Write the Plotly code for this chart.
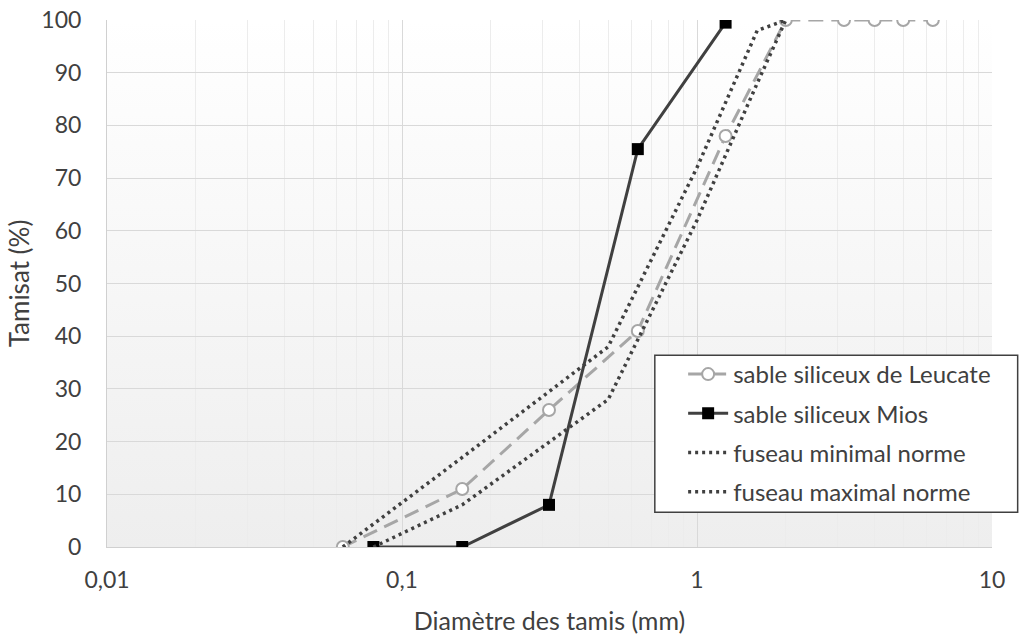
import base64
import plotly.graph_objects as go

# Data
leucate_x = [0.063, 0.16, 0.315, 0.63, 1.25, 2.0, 3.15, 4.0, 5.0, 6.3]
leucate_y = [0, 11, 26, 41, 78, 100, 100, 100, 100, 100]

mios_x = [0.08, 0.16, 0.315, 0.63, 1.25]
mios_y = [0, 0, 8, 75.5, 99.5]

fmin_x = [0.08, 0.16, 0.5, 1.0, 1.6, 2.0]
fmin_y = [0, 8, 28, 62, 88, 100]

fmax_x = [0.063, 0.16, 0.5, 1.0, 1.6, 2.0]
fmax_y = [0, 17, 38, 72, 98, 100]

x_tickvals = [0.01, 0.1, 1, 10]
x_ticktext = ["0,01", "0,1", "1", "10"]

FONT = "Lato"
TXT = "#404040"

fig = go.Figure()

fig.add_trace(go.Scatter(
    x=leucate_x, y=leucate_y, mode="lines+markers", name="sable siliceux de Leucate",
    legendgroup="a",
    line=dict(color="#a6a6a6", width=3, dash="15px,8px"),
    marker=dict(symbol="circle", size=12, color="white", line=dict(color="#a6a6a6", width=2)),
))
fig.add_trace(go.Scatter(
    x=mios_x, y=mios_y, mode="lines+markers", name="sable siliceux Mios",
    legendgroup="b",
    line=dict(color="#404040", width=3),
    marker=dict(symbol="square", size=12, color="black", line=dict(color="black", width=0)),
))
fig.add_trace(go.Scatter(
    x=fmin_x, y=fmin_y, mode="lines", name="fuseau minimal norme",
    legendgroup="c",
    line=dict(color="#404040", width=3.5, dash="3px,4px"),
))
fig.add_trace(go.Scatter(
    x=fmax_x, y=fmax_y, mode="lines", name="fuseau maximal norme",
    legendgroup="d",
    line=dict(color="#404040", width=3.5, dash="3px,4px"),
))

svg = ('<svg xmlns="http://www.w3.org/2000/svg" width="100" height="100" preserveAspectRatio="none">'
       '<defs><linearGradient id="g" x1="0" y1="0" x2="0" y2="1">'
       '<stop offset="0" stop-color="#ffffff"/><stop offset="1" stop-color="#eeeeee"/>'
       '</linearGradient></defs><rect width="100" height="100" fill="url(#g)"/></svg>')
src = "data:image/svg+xml;base64," + base64.b64encode(svg.encode()).decode()

fig.update_layout(
    width=1020, height=635,
    margin=dict(l=107, r=28, t=20, b=88),
    paper_bgcolor="white",
    plot_bgcolor="rgba(0,0,0,0)",
    font=dict(family=FONT, color=TXT, size=23),
    images=[dict(source=src, xref="paper", yref="paper", x=0, y=1, sizex=1, sizey=1,
                 sizing="stretch", layer="below", xanchor="left", yanchor="top")],
    shapes=[dict(type="rect", xref="paper", yref="paper",
                 x0=0.619, x1=1.029, y0=0.066, y1=0.364,
                 fillcolor="white", line=dict(color="#404040", width=1.5), layer="above")],
    xaxis=dict(
        type="log", range=[-2, 1], automargin=False,
        tickvals=x_tickvals, ticktext=x_ticktext,
        showgrid=True, gridcolor="#d9d9d9", gridwidth=1,
        minor=dict(dtick="D1", showgrid=True, gridcolor="#ececec", gridwidth=1),
        showline=True, linecolor="#d0d0d0", linewidth=1,
        zeroline=False, ticks="", ticklen=0,
        ticklabelstandoff=12,
        tickfont=dict(size=23, color=TXT),
        title=dict(text="Diamètre des tamis (mm)", font=dict(size=25, color=TXT), standoff=22),
    ),
    yaxis=dict(
        range=[0, 100], dtick=10, automargin=False,
        showgrid=True, gridcolor="#d9d9d9", gridwidth=1,
        showline=True, linecolor="#d0d0d0", linewidth=1,
        zeroline=False, ticks="",
        ticklabelstandoff=20,
        tickfont=dict(size=23, color=TXT),
        title=dict(text="Tamisat (%)", font=dict(size=26, color=TXT), standoff=4),
    ),
    legend=dict(
        x=0.651, y=0.370, xanchor="left", yanchor="top",
        bgcolor="rgba(0,0,0,0)", borderwidth=0,
        font=dict(size=24, color=TXT, family=FONT),
        tracegroupgap=5, traceorder="grouped",
        itemwidth=40,
    ),
)

fig.write_html("out.html")
